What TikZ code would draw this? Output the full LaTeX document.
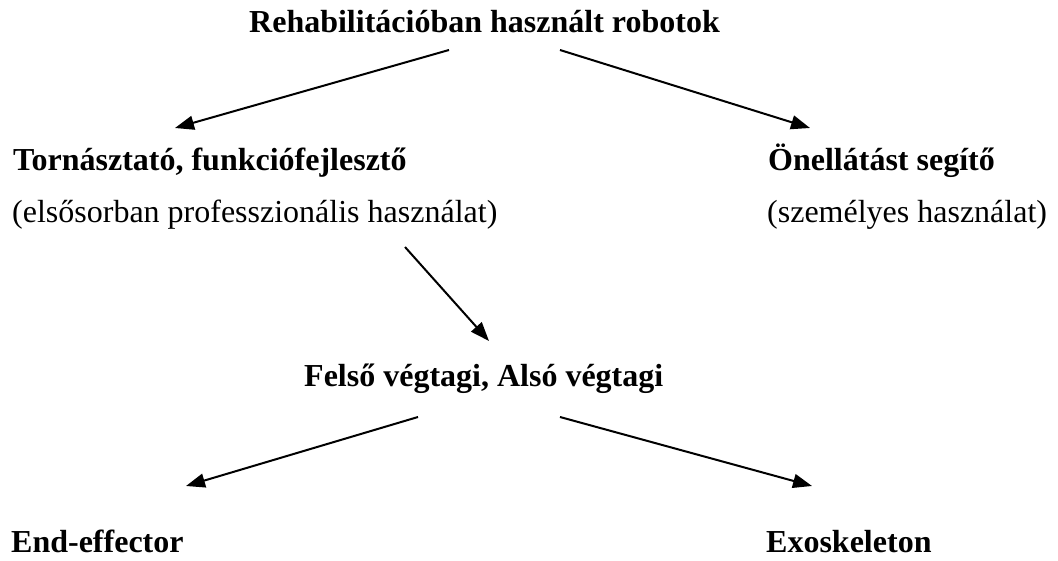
\documentclass[tikz,border=0pt]{standalone}
\usepackage{fontspec}
\setmainfont{Liberation Serif}
\usetikzlibrary{arrows.meta}
\begin{document}
\begin{tikzpicture}[x=1pt,y=-1pt,
  lbl/.style={anchor=base west,inner sep=0pt,font=\fontsize{32}{38}\selectfont\bfseries},
  sub/.style={anchor=base west,inner sep=0pt,font=\fontsize{32}{38}\selectfont},
  arr/.style={line width=2pt,-{Triangle[length=19pt,width=14pt]}}]
\useasboundingbox (0,0) rectangle (1058,561);
\node[lbl] (root) at (249,33) {Rehabilitációban használt robotok};
\node[lbl] (torn) at (13,171) {Tornásztató, funkciófejlesztő};
\node[sub] (tornsub) at (12,223) {(elsősorban professzionális használat)};
\node[lbl] (onel) at (768,171) {Önellátást segítő};
\node[sub] (onelsub) at (767,223) {(személyes használat)};
\node[lbl] (felso) at (304,386) {Felső végtagi, Alsó végtagi};
\node[lbl] (end) at (11,552) {End-effector};
\node[lbl] (exo) at (766,552) {Exoskeleton};
\coordinate (r1) at (449,50);
\coordinate (r2) at (560,50);
\coordinate (t1) at (175,128);
\coordinate (o1) at (810,128);
\coordinate (s1) at (405,247);
\coordinate (f0) at (489,341);
\coordinate (f1) at (418,417);
\coordinate (f2) at (560,417);
\coordinate (e1) at (186,486);
\coordinate (x1) at (812,486);
\draw[arr] (r1) -- (t1);
\draw[arr] (r2) -- (o1);
\draw[arr] (s1) -- (f0);
\draw[arr] (f1) -- (e1);
\draw[arr] (f2) -- (x1);
\end{tikzpicture}
\end{document}
